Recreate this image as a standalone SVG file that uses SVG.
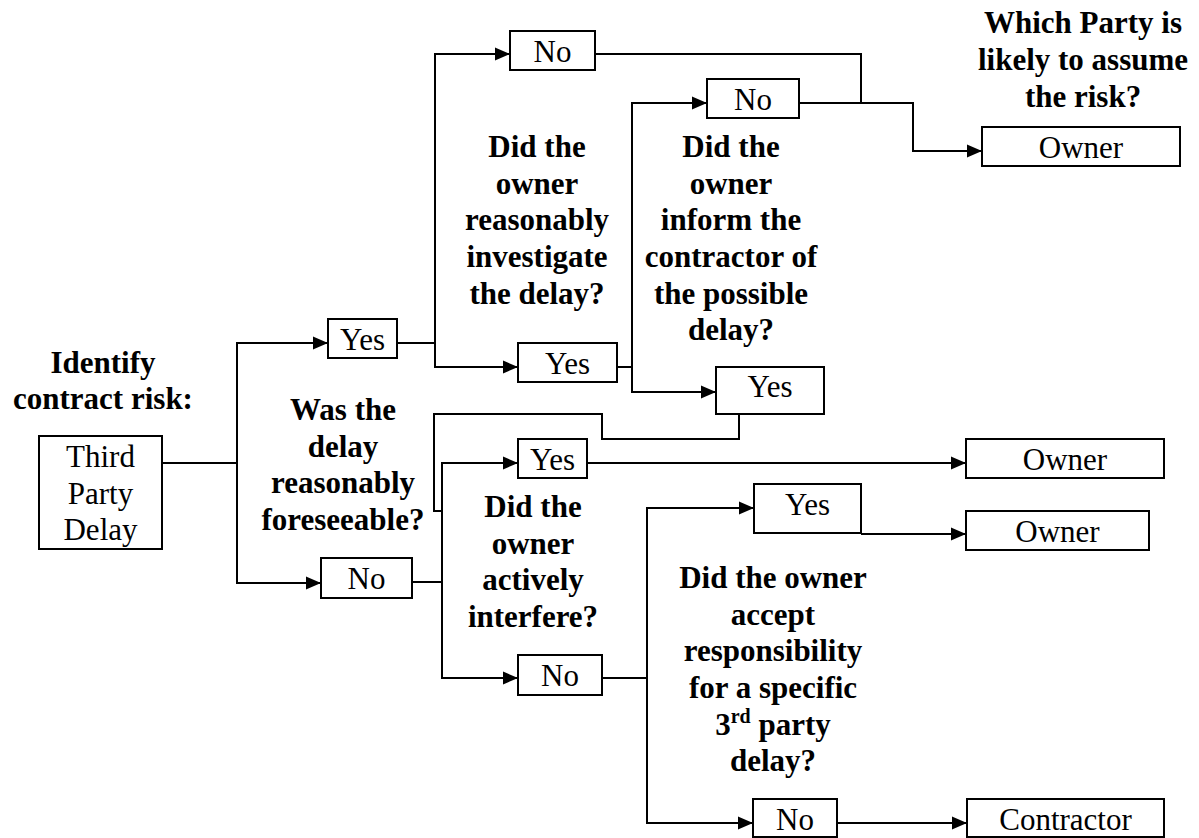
<svg xmlns="http://www.w3.org/2000/svg" width="1199" height="838" viewBox="0 0 1199 838">
  <style>
    .box { fill: #fff; stroke: #000; stroke-width: 2; }
    .lbl { font-family: "Liberation Serif", "Times New Roman", serif; font-size: 31px; fill: #000; text-anchor: middle; }
    .q { font-family: "Liberation Serif", "Times New Roman", serif; font-size: 31px; font-weight: bold; fill: #000; text-anchor: middle; }
    .wire { fill: none; stroke: #000; stroke-width: 2; }
    .arrow { marker-end: url(#head); }
  </style>
  <defs>
    <marker id="head" markerUnits="userSpaceOnUse" markerWidth="16" markerHeight="14" refX="15" refY="7" orient="auto">
      <path d="M0,0.5 L15,7 L0,13.5 z" fill="#000"/>
    </marker>
  </defs>
  <rect width="1199" height="838" fill="#fff"/>

  <!-- question headings -->
  <g id="headings">
    <text class="q" x="103" y="373">Identify</text>
    <text class="q" x="103" y="409">contract risk:</text>

    <text class="q" x="343" y="420">Was the</text>
    <text class="q" x="343" y="456.7">delay</text>
    <text class="q" x="343" y="493.3">reasonably</text>
    <text class="q" x="343" y="530">foreseeable?</text>

    <text class="q" x="537" y="157">Did the</text>
    <text class="q" x="537" y="193.7">owner</text>
    <text class="q" x="537" y="230.3">reasonably</text>
    <text class="q" x="537" y="267">investigate</text>
    <text class="q" x="537" y="303.7">the delay?</text>

    <text class="q" x="731" y="157">Did the</text>
    <text class="q" x="731" y="193.7">owner</text>
    <text class="q" x="731" y="230.3">inform the</text>
    <text class="q" x="731" y="267">contractor of</text>
    <text class="q" x="731" y="303.7">the possible</text>
    <text class="q" x="731" y="340.3">delay?</text>

    <text class="q" x="533" y="517">Did the</text>
    <text class="q" x="533" y="553.7">owner</text>
    <text class="q" x="533" y="590.3">actively</text>
    <text class="q" x="533" y="627">interfere?</text>

    <text class="q" x="773" y="588">Did the owner</text>
    <text class="q" x="773" y="624.7">accept</text>
    <text class="q" x="773" y="661.3">responsibility</text>
    <text class="q" x="773" y="698">for a specific</text>
    <text class="q" x="773" y="734.7">3<tspan font-size="20" dy="-12">rd</tspan><tspan dy="12"> party</tspan></text>
    <text class="q" x="773" y="771.3">delay?</text>

    <text class="q" x="1083" y="33">Which Party is</text>
    <text class="q" x="1083" y="70">likely to assume</text>
    <text class="q" x="1083" y="107">the risk?</text>
  </g>

  <!-- connectors -->
  <g id="connectors">
    <path class="wire" d="M162,463 H237"/>
    <path class="wire arrow" d="M237,463 V343 H328"/>
    <path class="wire arrow" d="M237,463 V583 H321"/>

    <path class="wire" d="M397,343 H435"/>
    <path class="wire arrow" d="M435,343 V54 H510"/>
    <path class="wire arrow" d="M435,343 V367 H518"/>

    <path class="wire" d="M617,367 H632"/>
    <path class="wire arrow" d="M632,367 V103 H707"/>
    <path class="wire arrow" d="M632,367 V392 H716"/>

    <path class="wire" d="M595,54 H861 V103"/>
    <path class="wire arrow" d="M799,103 H913 V151 H982"/>

    <path class="wire" d="M739,414 V439 H602 V414 H434 V511 H442"/>

    <path class="wire" d="M412,582 H442"/>
    <path class="wire arrow" d="M442,582 V463 H518"/>
    <path class="wire arrow" d="M442,582 V678 H518"/>

    <path class="wire arrow" d="M587,463 H966"/>

    <path class="wire" d="M602,678 H647"/>
    <path class="wire arrow" d="M647,678 V508 H754"/>
    <path class="wire arrow" d="M647,678 V823 H753"/>

    <path class="wire arrow" d="M861,534 H966"/>
    <path class="wire arrow" d="M837,823 H967"/>
  </g>

  <!-- nodes -->
  <g id="start">
    <rect class="box" x="39" y="436" width="123" height="113"/>
    <text class="lbl" x="100.5" y="467">Third</text>
    <text class="lbl" x="100.5" y="503.5">Party</text>
    <text class="lbl" x="100.5" y="540">Delay</text>
  </g>
  <g id="foresee-yes">
    <rect class="box" x="328" y="319" width="69" height="39"/>
    <text class="lbl" x="362.5" y="350">Yes</text>
  </g>
  <g id="foresee-no">
    <rect class="box" x="321" y="558" width="91" height="40"/>
    <text class="lbl" x="366.5" y="589">No</text>
  </g>
  <g id="investigate-no">
    <rect class="box" x="510" y="31" width="85" height="39"/>
    <text class="lbl" x="552.5" y="62">No</text>
  </g>
  <g id="investigate-yes">
    <rect class="box" x="518" y="343" width="99" height="39"/>
    <text class="lbl" x="567.5" y="374">Yes</text>
  </g>
  <g id="inform-no">
    <rect class="box" x="707" y="79" width="92" height="39"/>
    <text class="lbl" x="753" y="110">No</text>
  </g>
  <g id="inform-yes">
    <rect class="box" x="716" y="367" width="108" height="47"/>
    <text class="lbl" x="770" y="397">Yes</text>
  </g>
  <g id="owner-1">
    <rect class="box" x="982" y="127" width="198" height="39"/>
    <text class="lbl" x="1081" y="158">Owner</text>
  </g>
  <g id="interfere-yes">
    <rect class="box" x="518" y="439" width="69" height="39"/>
    <text class="lbl" x="552.5" y="470">Yes</text>
  </g>
  <g id="owner-2">
    <rect class="box" x="966" y="439" width="198" height="39"/>
    <text class="lbl" x="1065" y="470">Owner</text>
  </g>
  <g id="accept-yes">
    <rect class="box" x="754" y="484" width="107" height="49"/>
    <text class="lbl" x="807.5" y="515">Yes</text>
  </g>
  <g id="owner-3">
    <rect class="box" x="966" y="511" width="183" height="39"/>
    <text class="lbl" x="1057.5" y="542">Owner</text>
  </g>
  <g id="interfere-no">
    <rect class="box" x="518" y="655" width="84" height="40"/>
    <text class="lbl" x="560" y="686">No</text>
  </g>
  <g id="accept-no">
    <rect class="box" x="753" y="799" width="84" height="38"/>
    <text class="lbl" x="795" y="830">No</text>
  </g>
  <g id="contractor">
    <rect class="box" x="967" y="799" width="197" height="38"/>
    <text class="lbl" x="1065.5" y="830">Contractor</text>
  </g>
</svg>
